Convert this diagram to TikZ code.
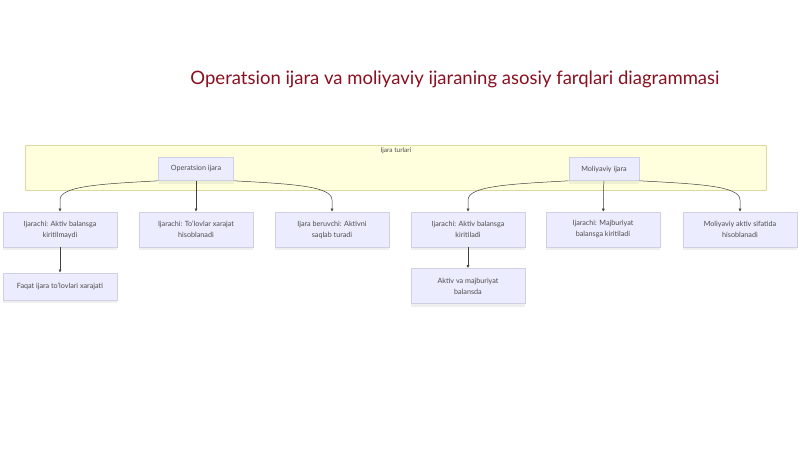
\documentclass[tikz,border=0pt]{standalone}
\usepackage{fontspec}
\setmainfont{Lato}
\usetikzlibrary{shadows,arrows.meta}
\definecolor{titlered}{HTML}{8A1020}
\definecolor{boxfill}{HTML}{ECECFF}
\definecolor{boxline}{HTML}{CFCFE6}
\definecolor{clusterfill}{HTML}{FFFFDE}
\definecolor{clusterline}{HTML}{DADAA0}
\tikzset{
  box/.style={draw=boxline, fill=boxfill, line width=0.6pt, minimum width=114pt,
    minimum height=35pt, align=center, text=black!70, font=\fontsize{7.2}{11}\selectfont,
    drop shadow={opacity=0.12, shadow xshift=0pt, shadow yshift=-3pt}},
  head/.style={box, minimum width=75pt, minimum height=23pt},
  edge/.style={draw=black!75, line width=0.5pt, -{Latex[length=3pt,width=3pt]}}
}
\begin{document}
\begin{tikzpicture}[x=1pt,y=-1pt]
\useasboundingbox[fill=white] (0,0) rectangle (800,450);
\node[text=titlered, font=\fontsize{18.5}{22}\selectfont] (title) at (455,79) {Operatsion ijara va moliyaviy ijaraning asosiy farqlari diagrammasi};
% cluster
\draw[fill=clusterfill, draw=clusterline, line width=0.6pt] (25,145) rectangle (766,190);
\node[font=\fontsize{6.5}{7}\selectfont, text=black!70] (turlar) at (396,151) {Ijara turlari};
% top nodes
\node[head] (op) at (196,169) {Operatsion ijara};
\node[head, minimum width=70pt] (mol) at (604,169) {Moliyaviy ijara};
% first row
\node[box] (op1) at (60,229.5) {Ijarachi: Aktiv balansga\\kiritilmaydi};
\node[box] (op2) at (196,229.5) {Ijarachi: To'lovlar xarajat\\hisoblanadi};
\node[box] (op3) at (332,229.5) {Ijara beruvchi: Aktivni\\saqlab turadi};
\node[box] (mol1) at (468,229.5) {Ijarachi: Aktiv balansga\\kiritiladi};
\node[box] (mol2) at (603,229.5) {Ijarachi: Majburiyat\\balansga kiritiladi};
\node[box] (mol3) at (740,229.5) {Moliyaviy aktiv sifatida\\hisoblanadi};
% second row
\node[box, minimum height=27pt] (op4) at (60,286.5) {Faqat ijara to'lovlari xarajati};
\node[box] (mol4) at (468,286) {Aktiv va majburiyat\\balansda};
% edges
\draw[edge] (op.south west) .. controls (100,184) and (60,186) .. (60,200) -- (op1.north);
\draw[edge] (op) -- (op2);
\draw[edge] (op.south east) .. controls (292,184) and (332,186) .. (332,200) -- (op3.north);
\draw[edge] (mol.south west) .. controls (510,184) and (468,186) .. (468,200) -- (mol1.north);
\draw[edge] (mol) -- (mol2);
\draw[edge] (mol.south east) .. controls (700,184) and (740,186) .. (740,200) -- (mol3.north);
\draw[edge] (op1) -- (op4);
\draw[edge] (mol1) -- (mol4);
\end{tikzpicture}
\end{document}
